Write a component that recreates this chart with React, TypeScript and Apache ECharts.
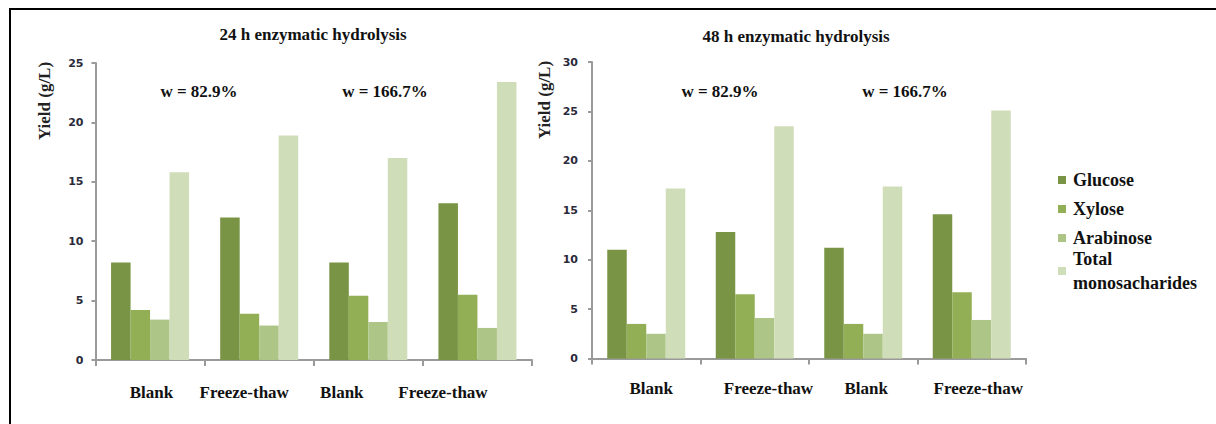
import React, { useEffect, useRef } from "react";
import * as echarts from "echarts";

const categories = ["Blank", "Freeze-thaw", "Blank", "Freeze-thaw"];
const seriesNames = ["Glucose", "Xylose", "Arabinose", "Total monosacharides"];

const glucose24 = [8.2, 12.0, 8.2, 13.2];
const xylose24 = [4.2, 3.9, 5.4, 5.5];
const arabinose24 = [3.4, 2.9, 3.2, 2.7];
const total24 = [15.8, 18.9, 17.0, 23.4];

const glucose48 = [11.0, 12.8, 11.2, 14.6];
const xylose48 = [3.5, 6.5, 3.5, 6.7];
const arabinose48 = [2.5, 4.1, 2.5, 3.9];
const total48 = [17.2, 23.5, 17.4, 25.1];

const titles = ["24 h enzymatic hydrolysis", "48 h enzymatic hydrolysis"];
const annotations = ["w = 82.9%", "w = 166.7%"];
const yName = "Yield (g/L)";

const colors = ["#7a9445", "#93af56", "#aec588", "#d0ddb9"];
const SERIF = "Liberation Serif";
const SANS = "DejaVu Sans";

// horizontal shifts of category labels (px) to mimic the original placement
const shiftsLeft = [1.4, -15, -26.5, -34.5];
const shiftsRight = [5, 13.7, 3, 6.5];

function labelFormatter() {
  return (value: string, index: number) => `{s${index}|${value}}`;
}
function richFor(shifts: number[]) {
  const rich: any = {};
  shifts.forEach((s, i) => {
    rich["s" + i] = {
      fontFamily: SERIF,
      fontWeight: "bold",
      fontSize: 17,
      color: "#111",
      padding: s >= 0 ? [0, 0, 0, 2 * s] : [0, -2 * s, 0, 0],
    };
  });
  return rich;
}

export default function App() {
  const ref = useRef<HTMLDivElement>(null);
  useEffect(() => {
    if (!ref.current) return;
    const chart = echarts.init(ref.current, null, { renderer: "svg" });
    const axisLineStyle = { color: "#9a9a9a", width: 2 };
    const mkX = (gridIndex: number, shifts: number[], margin: number) => ({
      type: "category",
      gridIndex,
      data: categories,
      axisLine: { show: true, lineStyle: axisLineStyle },
      axisTick: { show: true, length: 6, lineStyle: axisLineStyle },
      axisLabel: {
        margin,
        interval: 0,
        formatter: labelFormatter(),
        rich: richFor(shifts),
      },
    });
    const mkY = (gridIndex: number, max: number, margin: number) => ({
      type: "value",
      gridIndex,
      min: 0,
      max,
      interval: 5,
      splitLine: { show: false },
      axisLine: { show: true, lineStyle: axisLineStyle },
      axisTick: { show: true, length: 4, lineStyle: axisLineStyle },
      axisLabel: {
        margin,
        fontFamily: SANS,
        fontWeight: "bold",
        fontSize: 11,
        color: "#2a2a3a",
      },
    });
    const data24 = [glucose24, xylose24, arabinose24, total24];
    const data48 = [glucose48, xylose48, arabinose48, total48];
    const series: any[] = [];
    [data24, data48].forEach((set, gi) => {
      set.forEach((vals, si) => {
        series.push({
          type: "bar",
          name: seriesNames[si],
          xAxisIndex: gi,
          yAxisIndex: gi,
          data: vals,
          barWidth: 19.5,
          barGap: "0%",
          itemStyle: { color: colors[si] },
        });
      });
    });
    const textStyleBase = {
      fontFamily: SERIF,
      fontWeight: "bold",
      fontSize: 17,
      fill: "#111",
      align: "center",
      verticalAlign: "middle",
    };
    const legendText = {
      fontFamily: SERIF,
      fontWeight: "bold",
      fontSize: 18,
      color: "#111",
      lineHeight: 24,
      padding: [0, 0, 0, 2],
    };
    chart.setOption({
      animation: false,
      grid: [
        { left: 95.5, right: 684, top: 63, bottom: 64 },
        { left: 592, right: 190, top: 62, bottom: 65.5 },
      ],
      xAxis: [mkX(0, shiftsLeft, 24), mkX(1, shiftsRight, 21)],
      yAxis: [mkY(0, 25, 12), mkY(1, 30, 14)],
      legend: [
        {
          orient: "vertical",
          left: 1053,
          top: 163,
          itemWidth: 8,
          itemHeight: 8,
          itemGap: 5,
          icon: "rect",
          data: seriesNames.slice(0, 3),
          textStyle: legendText,
          selectedMode: false,
        },
        {
          orient: "vertical",
          left: 1053,
          top: 242,
          itemWidth: 8,
          itemHeight: 8,
          icon: "rect",
          data: seriesNames.slice(3),
          formatter: (n: string) => n.replace(" ", "\n"),
          textStyle: legendText,
          selectedMode: false,
        },
      ],
      series,
      graphic: [
        { type: "line", shape: { x1: 9, y1: 9, x2: 1216, y2: 9 }, style: { stroke: "#000", lineWidth: 2 } },
        { type: "line", shape: { x1: 10, y1: 8, x2: 10, y2: 424 }, style: { stroke: "#000", lineWidth: 2 } },
        { type: "text", x: 313, y: 34, style: { ...textStyleBase, text: titles[0] } },
        { type: "text", x: 796, y: 36, style: { ...textStyleBase, text: titles[1] } },
        { type: "text", x: 199, y: 91, style: { ...textStyleBase, text: annotations[0] } },
        { type: "text", x: 385, y: 91, style: { ...textStyleBase, text: annotations[1] } },
        { type: "text", x: 720, y: 91, style: { ...textStyleBase, text: annotations[0] } },
        { type: "text", x: 905, y: 91, style: { ...textStyleBase, text: annotations[1] } },
        { type: "text", x: 44, y: 101, rotation: Math.PI / 2, style: { ...textStyleBase, text: yName, fill: "#222" } },
        { type: "text", x: 544, y: 100, rotation: Math.PI / 2, style: { ...textStyleBase, text: yName, fill: "#222" } },
      ],
    });
    return () => chart.dispose();
  }, []);
  return (
    <div
      ref={ref}
      style={{ position: "fixed", left: 0, top: 0, width: 1216, height: 424, background: "#fff" }}
    />
  );
}
